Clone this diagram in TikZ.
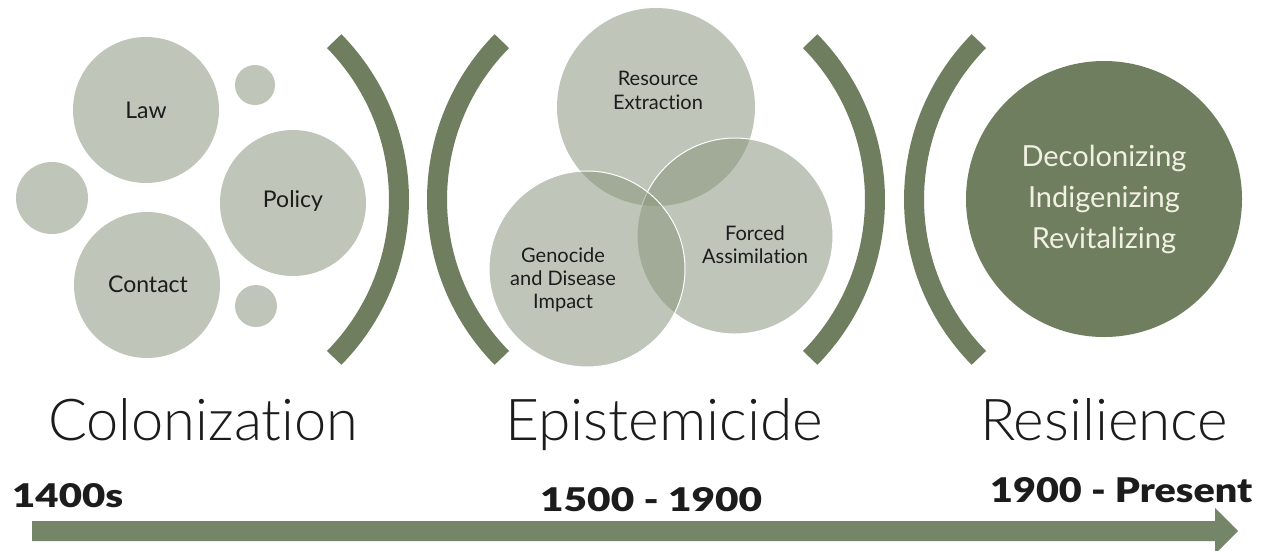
\documentclass[tikz,border=0pt]{standalone}
\usepackage{fontspec}
\usepackage{graphicx}
\setmainfont{Lato}[Ligatures={NoCommon,NoRare,NoContextual}]
\newfontfamily\lightfont{Lato Light}[Ligatures={NoCommon,NoRare,NoContextual}]
\newfontfamily\heavyfont{Lato Black}

\definecolor{sage}{RGB}{139,151,126}
\definecolor{moss}{RGB}{111,126,95}
\definecolor{arrowgreen}{RGB}{117,133,104}
\definecolor{cream}{RGB}{242,240,226}
\definecolor{ink}{RGB}{28,28,28}

\tikzset{
  bubble/.style={circle, fill=sage, fill opacity=0.55, text opacity=1,
    inner sep=0pt, text=ink, align=center},
  overlapbubble/.style={bubble, draw=white, draw opacity=1, line width=1pt},
  bracket/.style={draw=moss, line width=20pt},
  label/.style={text=ink, align=center, inner sep=0pt},
}

\begin{document}
\begin{tikzpicture}[x=1pt, y=-1pt]
  \useasboundingbox (0,0) rectangle (1266,550);
  \clip (0,0) rectangle (1266,550);
  \fill[white] (0,0) rectangle (1266,550);

  % Colonization cluster
  \node[bubble, minimum size=146pt] (law) at (146,110) {};
  \node[bubble, minimum size=40pt] (dottop) at (255,85) {};
  \node[bubble, minimum size=72pt] (dotleft) at (52,198) {};
  \node[bubble, minimum size=146pt] (policy) at (293,203) {};
  \node[bubble, minimum size=146pt] (contact) at (147,285) {};
  \node[bubble, minimum size=42pt] (dotbottom) at (256,306) {};
  \node[label, font=\fontsize{23}{27}\selectfont] (lawtxt) at (law) {Law};
  \node[label, font=\fontsize{23}{27}\selectfont] (policytxt) at (293,201) {Policy};
  \node[label, font=\fontsize{23}{27}\selectfont] (contacttxt) at (148,284) {Contact};

  % Epistemicide cluster (three overlapping discs)
  \node[bubble, minimum size=198pt] (resource) at (656,107) {};
  \node[overlapbubble, minimum size=196pt] (forced) at (735,236) {};
  \node[overlapbubble, minimum size=196pt] (genocide) at (587,269) {};
  \node[label, font=\fontsize{20}{24}\selectfont] (resourcetxt) at (658,90) {Resource\\Extraction};
  \node[label, font=\fontsize{20}{23}\selectfont] (forcedtxt) at (755,245) {Forced\\Assimilation};
  \node[label, font=\fontsize{20}{23}\selectfont] (genocidetxt) at (563,280) {Genocide\\and Disease\\Impact};

  % Resilience disc
  \node[circle, fill=moss, inner sep=0pt, minimum size=276pt] (resilience) at (1104,199) {};
  \node[label, text=cream, font=\fontsize{29}{41}\selectfont] (resiltxt) at (1104,199)
    {Decolonizing\\Indigenizing\\Revitalizing};

  % Bracket arcs between the stages
  \draw[bracket] ([shift={(-44.5:226pt)}] 173,199.5) arc[start angle=-44.5, end angle=44.5, radius=226pt];
  \draw[bracket] ([shift={(135.5:226pt)}] 663,199.5) arc[start angle=135.5, end angle=224.5, radius=226pt];
  \draw[bracket] ([shift={(-44.5:226pt)}] 649,199.5) arc[start angle=-44.5, end angle=44.5, radius=226pt];
  \draw[bracket] ([shift={(135.5:226pt)}] 1140,199.5) arc[start angle=135.5, end angle=224.5, radius=226pt];

  % Stage titles
  \node[label, anchor=base west] (coltitle) at (48,440) {\resizebox{310pt}{42pt}{\lightfont Colonization}};
  \node[label, anchor=base west] (epititle) at (505,440) {\resizebox{318pt}{42pt}{\lightfont Epistemicide}};
  \node[label, anchor=base west] (restitle) at (980,440) {\resizebox{248pt}{42pt}{\lightfont Resilience}};

  % Dates
  \node[label, anchor=base west] (d1) at (12,507) {\resizebox{111pt}{24pt}{\heavyfont 1400s}};
  \node[label, anchor=base west] (d2) at (540,511) {\resizebox{222pt}{24pt}{\heavyfont 1500 - 1900}};
  \node[label, anchor=base west] (d3) at (990,502) {\resizebox{262pt}{25pt}{\heavyfont 1900 - Present}};

  % Timeline arrow
  \fill[arrowgreen] (32,521) -- (1215,521) -- (1215,508) -- (1238,531)
    -- (1215,554) -- (1215,541) -- (32,541) -- cycle;
\end{tikzpicture}
\end{document}
